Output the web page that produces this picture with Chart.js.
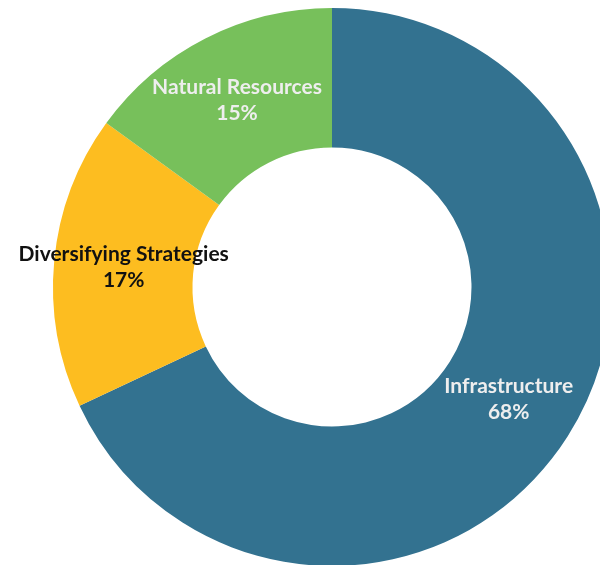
<!DOCTYPE html>
<html>
<head>
<meta charset="utf-8">
<script src="https://cdn.jsdelivr.net/npm/chart.js@4"></script>
<style>
  html, body { margin: 0; padding: 0; background: #fff; overflow: hidden; }
  #wrap { position: absolute; left: 0; top: 8px; width: 664px; height: 558px; }
</style>
</head>
<body>
<div id="wrap"><canvas id="chart"></canvas></div>
<script>
// Allocation shares, clockwise from 12 o'clock
var categories = ["Infrastructure", "Diversifying Strategies", "Natural Resources"];
var shares = [68, 17, 15];
var sliceColors = ["#337290", "#FDBD20", "#77C05B"];
var labelColors = ["#eeeeee", "#111111", "#eeeeee"];

// Writes the category name and percent on each slice
var sliceLabels = {
    id: "sliceLabels",
    afterDatasetsDraw: function(chart) {
        var ctx = chart.ctx;
        var meta = chart.getDatasetMeta(0);
        ctx.save();
        ctx.textAlign = "center";
        ctx.textBaseline = "middle";
        ctx.font = "bold 21px Lato";
        meta.data.forEach(function(arc, i) {
            var p = arc.tooltipPosition();
            ctx.fillStyle = labelColors[i];
            ctx.fillText(categories[i], p.x, p.y - 13);
            ctx.fillText(shares[i] + "%", p.x, p.y + 13);
        });
        ctx.restore();
    }
};

var chart = new Chart(document.getElementById("chart"), {
    type: "doughnut",
    data: {
        labels: categories,
        datasets: [{
            data: shares,
            backgroundColor: sliceColors,
            borderWidth: 0
        }]
    },
    options: {
        responsive: true,
        maintainAspectRatio: false,
        animation: false,
        cutout: "50%",
        layout: { padding: 0 },
        plugins: {
            legend: { display: false },
            tooltip: { enabled: false }
        }
    },
    plugins: [sliceLabels]
});
</script>
</body>
</html>
